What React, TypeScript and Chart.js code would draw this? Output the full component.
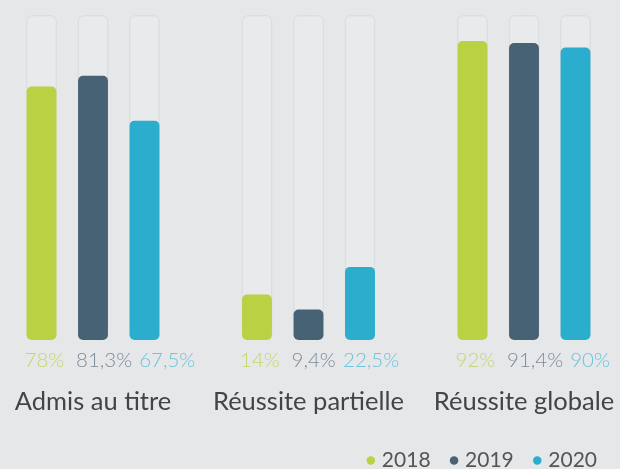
import React, { useEffect, useRef } from "react";
import { Chart, registerables } from "chart.js";

Chart.register(...registerables);

const categories = ["Admis au titre", "Réussite partielle", "Réussite globale"];
const years = ["2018", "2019", "2020"];
const values2018 = [78, 14, 92];
const values2019 = [81.3, 9.4, 91.4];
const values2020 = [67.5, 22.5, 90];
const trackValues = [100, 100, 100];

const barColors = ["#b9d143", "#476274", "#2badce"];
const labelColors = ["#c3d76e", "#7d8c99", "#6cc3dd"];

const fmt = (v: number) => String(v).replace(".", ",") + "%";

export default function App() {
  const ref = useRef<HTMLCanvasElement | null>(null);

  useEffect(() => {
    if (!ref.current) return;
    const series = [values2018, values2019, values2020];
    const stacks = ["a", "b", "c"];

    const colored = series.map((data, i) => ({
      label: years[i],
      data,
      backgroundColor: barColors[i],
      borderWidth: 0,
      borderRadius: 5,
      borderSkipped: false,
      stack: stacks[i],
      order: 0,
      clip: false,
      categoryPercentage: 0.717,
      barPercentage: 0.58,
    }));
    const tracks = stacks.map((s) => ({
      label: "",
      data: trackValues,
      backgroundColor: "#e9eaec",
      borderColor: "#dcdde0",
      borderWidth: 1.5,
      borderRadius: 6,
      borderSkipped: false,
      stack: s,
      order: 1,
      clip: false,
      categoryPercentage: 0.717,
      barPercentage: 0.6,
    }));

    const pctPlugin = {
      id: "pctLabels",
      afterDatasetsDraw(chart: any) {
        const ctx = chart.ctx;
        ctx.save();
        ctx.font = "300 20.5px Lato";
        ctx.textAlign = "left";
        ctx.textBaseline = "middle";
        const y = chart.chartArea.bottom + 20;
        for (let j = 0; j < categories.length; j++) {
          let prevEnd = -Infinity;
          for (let i = 0; i < 3; i++) {
            const el: any = chart.getDatasetMeta(i).data[j];
            const text = fmt(series[i][j]);
            const x = Math.max(el.x - el.width / 2 - 2, prevEnd + 7);
            ctx.fillStyle = labelColors[i];
            ctx.fillText(text, x, y);
            prevEnd = x + ctx.measureText(text).width;
          }
        }
        ctx.restore();
      },
    };

    const chart = new Chart(ref.current, {
      type: "bar",
      data: { labels: categories, datasets: [...colored, ...tracks] as any },
      plugins: [pctPlugin],
      options: {
        animation: false,
        responsive: true,
        maintainAspectRatio: false,
        layout: { padding: { top: 15, bottom: -12, left: 0, right: 0 } },
        plugins: {
          tooltip: { enabled: false },
          legend: {
            position: "bottom",
            align: "end",
            labels: {
              filter: (item: any) => item.datasetIndex < 3,
              usePointStyle: true,
              pointStyle: "circle",
              boxWidth: 1,
              boxHeight: 6,
              padding: 23,
              color: "#555555",
              font: { family: "Lato", size: 21 },
            },
          },
        },
        scales: {
          x: {
            offset: false,
            grid: { display: false, drawTicks: false, offset: false },
            border: { display: false },
            ticks: {
              color: "#444444",
              padding: 46,
              font: { family: "Lato", size: 25.5 },
              maxRotation: 0,
              autoSkip: false,
            },
            afterFit: (s: any) => {
              s.height = 87;
              s.paddingLeft = 0;
              s.paddingRight = 0;
            },
          },
          y: {
            position: "left",
            min: 0,
            max: 100,
            stacked: false,
            grid: { display: false },
            border: { display: false },
            ticks: { display: false },
            afterFit: (s: any) => {
              s.width = 93;
            },
          },
          y2: {
            position: "right",
            min: 0,
            max: 100,
            grid: { display: false },
            border: { display: false },
            ticks: { display: false },
            afterFit: (s: any) => {
              s.width = 96;
            },
          },
        },
      } as any,
    });
    return () => chart.destroy();
  }, []);

  return (
    <div
      style={{
        position: "fixed",
        left: 0,
        top: 0,
        width: 620,
        height: 469,
        background: "#e6e7e9",
      }}
    >
      <canvas ref={ref} />
    </div>
  );
}
